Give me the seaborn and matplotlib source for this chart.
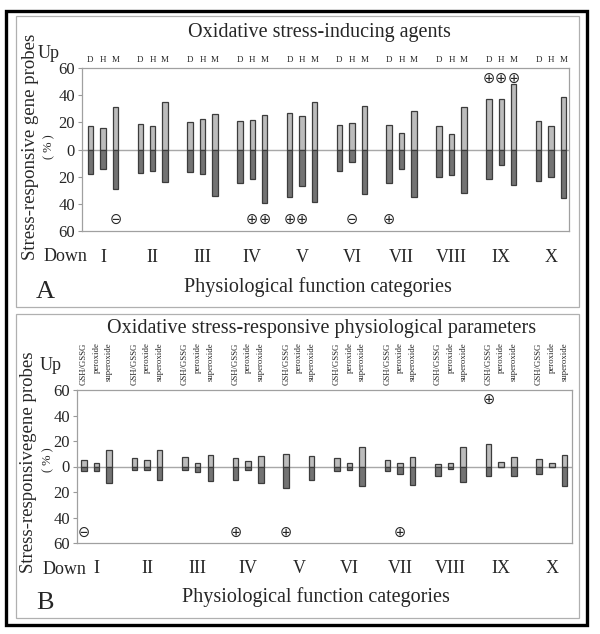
import numpy as np
import pandas as pd
import matplotlib
matplotlib.use("Agg")
import matplotlib.pyplot as plt
from matplotlib.patches import Rectangle
import matplotlib.transforms as mtransforms
import seaborn as sns

# ---- data (percent of stress-responsive gene probes) ----
categories = ["I", "II", "III", "IV", "V", "VI", "VII", "VIII", "IX", "X"]

# panel A : agents D, H, M
agents = ["D", "H", "M"]
a_up = [[17, 16, 31], [19, 17.5, 35], [20, 22.5, 26.5], [21, 22, 25.5], [27, 25, 35],
        [18, 19.5, 32], [18, 12.5, 28], [17.5, 11.5, 31.5], [37, 37, 48], [21, 17.5, 38.5]]
a_down = [[18, 14, 29], [17, 15.5, 24], [16.5, 18, 34], [25, 21.5, 39.5], [35, 27, 39],
          [15.5, 9.5, 32.5], [25, 14, 35], [20.5, 18.5, 32], [22, 11.5, 26.5], [23.5, 20.5, 35.5]]
# significance marks: (category, agent, symbol, side)
a_marks = [(0, 2, "⊖", "down"), (3, 1, "⊕", "down"), (3, 2, "⊕", "down"),
           (4, 0, "⊕", "down"), (4, 1, "⊕", "down"), (5, 1, "⊖", "down"),
           (6, 0, "⊕", "down"), (8, 0, "⊕", "up"), (8, 1, "⊕", "up"), (8, 2, "⊕", "up")]

# panel B : physiological parameters
params = ["GSH/GSSG", "peroxide", "superoxide"]
b_up = [[5, 2.5, 13], [7, 5, 13], [7.5, 2.5, 9], [7, 4, 8], [10, np.nan, 8],
        [6.5, 2.5, 15], [5, 2.5, 7.5], [2, 2.5, 15], [18, 3.5, 7.5], [6, 3, 9]]
b_down = [[3.5, 3.5, 13], [3, 3, 10.5], [3, 4, 11.5], [10.5, 3, 13], [16.5, np.nan, 10.5],
          [3.5, 2.5, 15], [3.5, 5.5, 14.5], [7.5, 2, 12], [7.5, 0.5, 7.5], [6, 0.5, 15]]
b_marks = [(0, 0, "⊖", "down"), (3, 0, "⊕", "down"), (4, 0, "⊕", "down"),
           (6, 1, "⊕", "down"), (8, 0, "⊕", "up")]

sns.set_style("white")
plt.rcParams["font.family"] = ["Liberation Serif", "DejaVu Sans"]

W, H = 600, 634
fig = plt.figure(figsize=(6.0, 6.34), dpi=100)


def fx(x):
    return x / W


def fy(y):
    return 1 - y / H


UP_C, DOWN_C, EDGE = "#bcbcbc", "#737373", "#3c3c3c"


def draw_panel(ax, up, down, series, marks, xlim, label_rot):
    rows = []
    for g in range(len(categories)):
        for j in range(len(series)):
            pos = g + (j - 1) * 0.25
            rows.append({"pos": pos, "up": up[g][j], "down": -down[g][j]})
    df = pd.DataFrame(rows)
    sns.barplot(data=df, x="pos", y="up", native_scale=True, orient="x", width=0.44,
                color=UP_C, saturation=1, edgecolor=EDGE, linewidth=0.9,
                errorbar=None, ax=ax)
    sns.barplot(data=df, x="pos", y="down", native_scale=True, orient="x", width=0.44,
                color=DOWN_C, saturation=1, edgecolor=EDGE, linewidth=0.9,
                errorbar=None, ax=ax)
    ax.axhline(0, color="#a8a8a8", lw=1.0, zorder=0)
    ax.set_xlim(*xlim)
    ax.set_ylim(-60, 60)
    ax.set_yticks([-60, -40, -20, 0, 20, 40, 60])
    ax.set_yticklabels(["60", "40", "20", "0", "20", "40", "60"], fontsize=12)
    ax.set_xticks([])
    ax.set_xlabel("")
    ax.set_ylabel("")
    ax.tick_params(axis="y", length=3, width=0.8, color="#999999", pad=2, left=True)
    for s in ax.spines.values():
        s.set_color("#a0a0a0")
        s.set_linewidth(0.9)
    trans = mtransforms.blended_transform_factory(ax.transData, ax.transAxes)
    for g, name in enumerate(categories):
        ax.text(g, -0.165, name, transform=trans, ha="center", va="center", fontsize=13)
        for j, lab in enumerate(series):
            pos = g + (j - 1) * 0.25
            if label_rot:
                ax.text(pos, 1.31, lab, transform=trans, rotation=90, ha="center",
                        va="top", fontsize=6.3)
            else:
                ax.text(pos, 1.05, lab, transform=trans, ha="center", va="center",
                        fontsize=6.5)
    for g, j, sym, side in marks:
        pos = g + (j - 1) * 0.25
        yv = 52.5 if side == "up" else -51.5
        ax.text(pos, yv, sym, ha="center", va="center", fontsize=10.5,
                family=["DejaVu Sans"])


# ---- panel A ----
axA = fig.add_axes([fx(82), fy(231), fx(569) - fx(82), (231 - 68) / H])
draw_panel(axA, a_up, a_down, agents, a_marks, (-0.42, 9.36), False)
fig.text(fx(319), fy(32), "Oxidative stress-inducing agents", ha="center", va="center",
         fontsize=14.5)
fig.text(fx(318), fy(287), "Physiological function categories", ha="center",
         va="center", fontsize=14.5)
fig.text(fx(31), fy(147), "Stress-responsive gene probes", rotation=90, ha="center",
         va="center", fontsize=13.5)
fig.text(fx(49), fy(147), "( % )", rotation=90, ha="center", va="center", fontsize=9)
fig.text(fx(38), fy(53), "Up", ha="left", va="center", fontsize=13)
fig.text(fx(44), fy(257), "Down", ha="left", va="center", fontsize=13)
fig.text(fx(36), fy(292), "A", ha="left", va="center", fontsize=19)

# ---- panel B ----
axB = fig.add_axes([fx(77), fy(543), fx(572) - fx(77), (543 - 390) / H])
draw_panel(axB, b_up, b_down, params, b_marks, (-0.385, 9.4), True)
fig.text(fx(322), fy(328), "Oxidative stress-responsive physiological parameters",
         ha="center", va="center", fontsize=14.5)
fig.text(fx(316), fy(597), "Physiological function categories", ha="center",
         va="center", fontsize=14.5)
fig.text(fx(29), fy(462), "Stress-responsivegene probes", rotation=90, ha="center",
         va="center", fontsize=13.5)
fig.text(fx(48), fy(460), "( % )", rotation=90, ha="center", va="center", fontsize=9)
fig.text(fx(40), fy(365), "Up", ha="left", va="center", fontsize=13)
fig.text(fx(43), fy(569), "Down", ha="left", va="center", fontsize=13)
fig.text(fx(36), fy(603), "B", ha="left", va="center", fontsize=19)

# ---- frames ----
fig.patches.append(Rectangle((fx(6), fy(625)), fx(587) - fx(6), (625 - 11) / H,
                             transform=fig.transFigure, fill=False, ec="black", lw=2.4))
fig.patches.append(Rectangle((fx(16), fy(307)), fx(579) - fx(16), (307 - 16) / H,
                             transform=fig.transFigure, fill=False, ec="#b0b0b0", lw=0.9))
fig.patches.append(Rectangle((fx(16), fy(618)), fx(579) - fx(16), (618 - 314) / H,
                             transform=fig.transFigure, fill=False, ec="#b0b0b0", lw=0.9))

fig.savefig("out.png", dpi=100, facecolor="white")
